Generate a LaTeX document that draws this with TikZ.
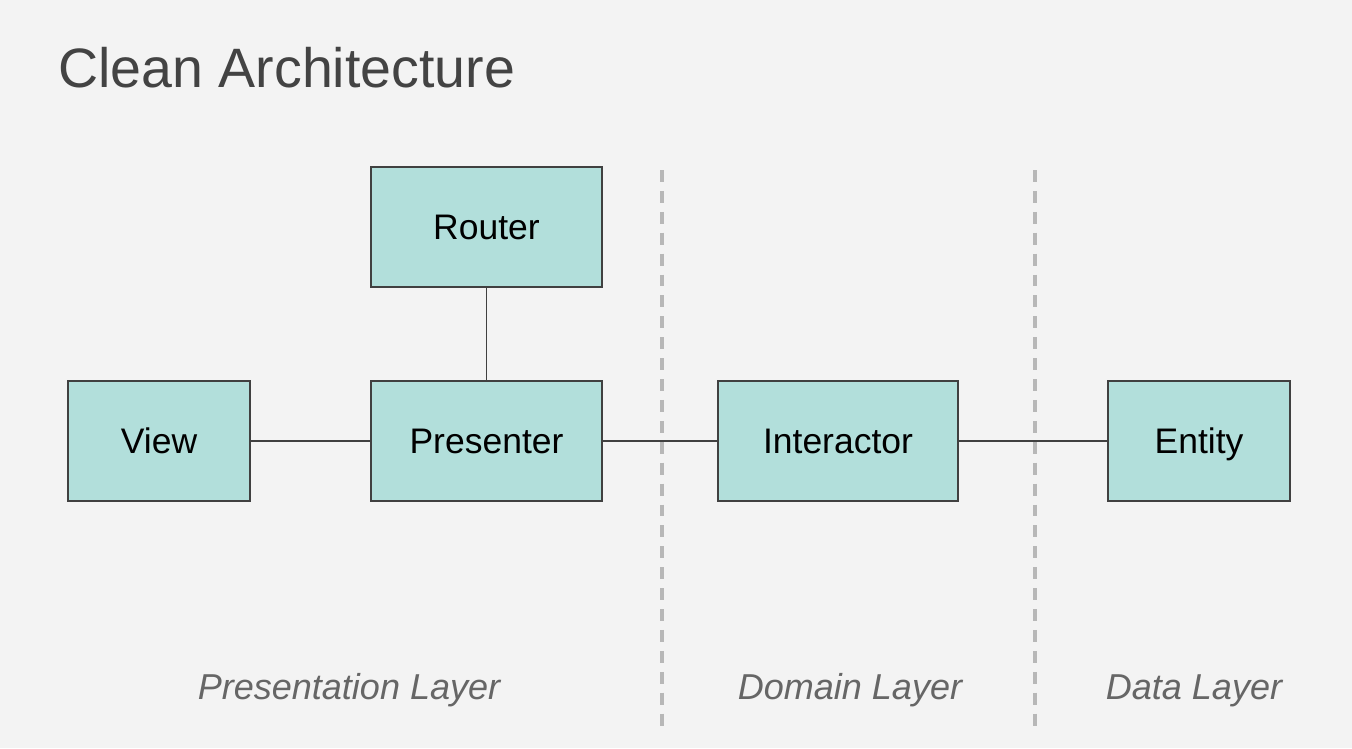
\documentclass[tikz,border=0pt]{standalone}
\usepackage{fontspec}
\setmainfont{Liberation Sans}
\definecolor{bgcol}{HTML}{F3F3F3}
\definecolor{boxcol}{HTML}{B2DFDB}
\definecolor{titlecol}{HTML}{434343}
\definecolor{layercol}{HTML}{666666}
\definecolor{dashcol}{HTML}{B7B7B7}
\tikzset{
  box/.style={draw=black!75, line width=0.7pt, fill=boxcol, inner sep=0pt,
    font=\fontsize{20.2}{24}\selectfont, text height=14.5pt, text depth=0pt},
  layer/.style={anchor=base, text=layercol, font=\fontsize{20.5}{24}\itshape},
  divider/.style={draw=dashcol, line width=1.8pt, dash pattern=on 6.8pt off 5.1pt},
  link/.style={draw=black!75, line width=0.6pt}
}
\begin{document}
\begin{tikzpicture}[x=0.02cm, y=-0.02cm]
  \fill[bgcol] (0,0) rectangle (1352,748);
  \useasboundingbox (0,0) rectangle (1352,748);
  \node[anchor=base west, inner sep=0pt, text=titlecol, font=\fontsize{31.6}{36}\selectfont] (title) at (58,87) {Clean Architecture};
  % layer dividers
  \foreach \x in {662,1035} \draw[divider] (\x,170) -- (\x,730);
  % components
  \node[box, minimum width=4.62cm, minimum height=2.4cm] (router) at (486.5,227) {Router};
  \node[box, minimum width=3.64cm, minimum height=2.4cm] (view) at (159,441) {View};
  \node[box, minimum width=4.62cm, minimum height=2.4cm] (presenter) at (486.5,441) {Presenter};
  \node[box, minimum width=4.8cm, minimum height=2.4cm] (interactor) at (838,441) {Interactor};
  \node[box, minimum width=3.64cm, minimum height=2.4cm] (entity) at (1199,441) {Entity};
  \draw[link] (view) -- (presenter);
  \draw[link] (router) -- (presenter);
  \draw[link] (presenter) -- (interactor);
  \draw[link] (interactor) -- (entity);
  % layer names
  \node[layer] (presentation) at (349,699) {Presentation Layer};
  \node[layer] (domain) at (850,699) {Domain Layer};
  \node[layer] (data) at (1194,699) {Data Layer};
\end{tikzpicture}
\end{document}
